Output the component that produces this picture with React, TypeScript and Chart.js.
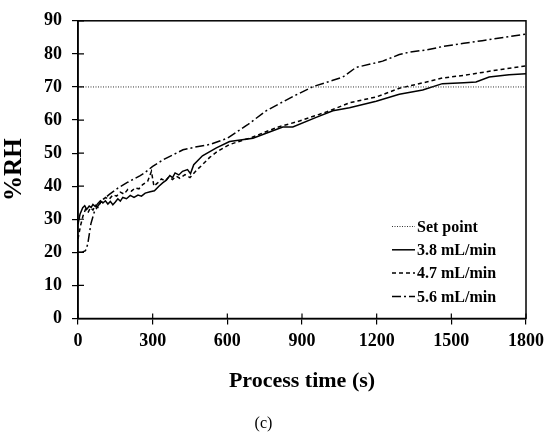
import { useEffect, useRef } from "react"
import { Chart, type ChartConfiguration, registerables } from "chart.js"

Chart.register(...registerables)

const setPointTime = [0, 1800]
const setPointRH = [70, 70]

const time38 = [0, 8, 19, 27, 35, 45, 53, 60, 70, 80, 90, 100, 110, 120, 130, 140, 150, 160, 170, 180, 195, 210, 225, 241, 255, 270, 290, 307, 325, 340, 355, 369, 380, 390, 405, 420, 440, 452, 465, 500, 556, 609, 703, 756, 823, 863, 957, 1024, 1091, 1198, 1291, 1385, 1464, 1550, 1599, 1652, 1732, 1800]
const rh38 = [28.5, 31.5, 33.5, 34.1, 33, 34, 33.6, 34.5, 33.8, 34.8, 35.6, 34.9, 35.6, 34.6, 35.4, 34.4, 35.2, 36.2, 35.5, 36.6, 36.2, 37.2, 36.6, 37.3, 37, 37.9, 38.3, 38.6, 40, 41, 41.8, 43.2, 42.6, 44, 43.4, 44.5, 45, 43.8, 46.5, 49.2, 51.6, 53.5, 54.5, 56, 57.9, 57.9, 60.8, 62.8, 63.7, 65.7, 67.8, 69.1, 71, 71.3, 71.5, 73, 73.7, 74]

const time47 = [0, 10, 20, 30, 40, 50, 60, 70, 80, 90, 100, 110, 125, 140, 155, 170, 185, 200, 215, 230, 245, 260, 280, 295, 305, 320, 335, 350, 365, 380, 395, 409, 430, 450, 476, 500, 529, 560, 609, 700, 800, 890, 1000, 1091, 1200, 1291, 1400, 1464, 1550, 1624, 1700, 1800]
const rh47 = [24, 28, 31, 33, 32, 33.5, 32.8, 34.2, 33.6, 35, 35.5, 36.6, 36, 37.4, 37, 38.2, 37.6, 39, 38.5, 39.5, 39.2, 40.5, 41.5, 44.5, 40, 41, 42.2, 41.6, 42.8, 42, 43, 42.4, 43.5, 42.6, 44.8, 46.5, 48.7, 50.5, 52.6, 54.8, 57.8, 59.7, 62.5, 65.2, 67, 69.6, 71.5, 72.7, 73.5, 74.4, 75.3, 76.4]

const time56 = [0, 15, 30, 39, 52, 65, 80, 100, 126, 160, 200, 230, 250, 267, 300, 347, 422, 470, 529, 600, 680, 756, 863, 944, 1024, 1064, 1117, 1224, 1291, 1331, 1400, 1464, 1550, 1624, 1719, 1800]
const rh56 = [20, 20, 20.5, 22.4, 28.7, 32.1, 34, 36, 37.5, 39.4, 41.2, 42.4, 43.2, 44, 46, 48.2, 51, 51.8, 52.6, 54.5, 58.5, 62.8, 67.1, 70.1, 72, 73, 75.9, 77.8, 79.8, 80.5, 81.2, 82.2, 83.2, 84, 85.1, 86]

const seriesLabels = ["Set point", "3.8 mL/min", "4.7 mL/min", "5.6 mL/min"]

const toPoints = (xs: number[], ys: number[]) => xs.map((x, i) => ({ x, y: ys[i] }))

const serif = "'Liberation Serif', 'Times New Roman', serif"

// ticks that also poke into the plot, plus the box around it
const boxTicks = {
  id: "boxTicks",
  afterDatasetsDraw(chart: Chart) {
    const { ctx, chartArea: a, scales } = chart
    ctx.save()
    ctx.strokeStyle = "#000"
    ctx.lineWidth = 1.2
    ctx.beginPath()
    scales.x.ticks.forEach((t) => {
      const px = scales.x.getPixelForValue(t.value)
      ctx.moveTo(px, a.bottom)
      ctx.lineTo(px, a.bottom - 5)
    })
    scales.y.ticks.forEach((t) => {
      const py = scales.y.getPixelForValue(t.value)
      ctx.moveTo(a.left, py)
      ctx.lineTo(a.left + 6, py)
    })
    ctx.stroke()
    ctx.lineWidth = 1.5
    ctx.strokeRect(a.left, a.top, a.right - a.left, a.bottom - a.top)
    ctx.restore()
  },
}

// legend sits inside the plot, bottom right
const insideLegend = {
  id: "insideLegend",
  afterDraw(chart: Chart) {
    const { ctx, chartArea: a } = chart
    const x0 = a.right - 134
    const y0 = a.bottom - 92
    ctx.save()
    chart.data.datasets.forEach((ds: any, i: number) => {
      const y = y0 + i * 23.3
      ctx.strokeStyle = ds.borderColor
      ctx.lineWidth = ds.borderWidth
      ctx.setLineDash(ds.borderDash || [])
      ctx.beginPath()
      ctx.moveTo(x0, y)
      ctx.lineTo(x0 + 23, y)
      ctx.stroke()
      ctx.setLineDash([])
      ctx.fillStyle = "#000"
      ctx.font = `bold 16px ${serif}`
      ctx.textAlign = "left"
      ctx.textBaseline = "middle"
      ctx.fillText(ds.label, x0 + 25, y + 1)
    })
    ctx.restore()
  },
}

export default function App() {
  const chartRef = useRef<HTMLCanvasElement>(null)
  const chartInstance = useRef<Chart>()

  useEffect(() => {
    if (!chartRef.current) return
    document.body.style.margin = "0"

    if (chartInstance.current) {
      chartInstance.current.destroy()
    }

    const ctx = chartRef.current.getContext("2d")
    if (!ctx) return

    const line = { pointRadius: 0, fill: false, tension: 0, borderColor: "#000" }

    chartInstance.current = new Chart(ctx, {
      type: "line",
      data: {
        datasets: [
          { ...line, label: seriesLabels[0], data: toPoints(setPointTime, setPointRH), borderWidth: 1, borderDash: [1, 1.5], borderColor: "#333" },
          { ...line, label: seriesLabels[1], data: toPoints(time38, rh38), borderWidth: 1.5 },
          { ...line, label: seriesLabels[2], data: toPoints(time47, rh47), borderWidth: 1.5, borderDash: [4, 3] },
          { ...line, label: seriesLabels[3], data: toPoints(time56, rh56), borderWidth: 1.5, borderDash: [9, 3, 2, 3] },
        ],
      },
      options: {
        responsive: true,
        maintainAspectRatio: false,
        animation: false,
        layout: { padding: { left: 0, right: 23, top: 10, bottom: 0 } },
        scales: {
          x: {
            type: "linear",
            min: 0,
            max: 1800,
            afterFit: (scale: any) => {
              scale.height = 95.3
            },
            border: { display: true, color: "#000", width: 1.5 },
            grid: { drawOnChartArea: false, drawTicks: true, tickLength: 6, color: "#000", lineWidth: 1.2 },
            ticks: {
              stepSize: 300,
              padding: 6,
              color: "#000",
              font: { family: serif, size: 18, weight: "bold" },
              maxRotation: 0,
              callback: (v: any) => String(v),
            },
            title: {
              display: true,
              text: "Process time (s)",
              color: "#000",
              font: { family: serif, size: 22, weight: "bold" },
              padding: { top: 0, bottom: 19 },
            },
          },
          y: {
            type: "linear",
            min: 0,
            max: 90,
            afterFit: (scale: any) => {
              scale.width = 78
            },
            border: { display: true, color: "#000", width: 1.5 },
            grid: { drawOnChartArea: false, drawTicks: true, tickLength: 6, color: "#000", lineWidth: 1.2 },
            ticks: {
              stepSize: 10,
              padding: 10,
              color: "#000",
              font: { family: serif, size: 18, weight: "bold" },
              callback: (v: any) => String(v),
            },
            title: {
              display: true,
              text: "%RH",
              color: "#000",
              font: { family: serif, size: 25, weight: "bold" },
              padding: { top: 0, bottom: 0 },
            },
          },
        },
        plugins: {
          legend: { display: false },
          tooltip: { enabled: false },
          title: {
            display: true,
            position: "bottom",
            text: "(c)",
            color: "#000",
            font: { family: serif, size: 16, weight: "normal" },
            padding: { top: 0, bottom: 6 },
          },
        },
      },
      plugins: [boxTicks, insideLegend],
    } as ChartConfiguration)

    return () => {
      if (chartInstance.current) {
        chartInstance.current.destroy()
      }
    }
  }, [])

  return (
    <div style={{ position: "relative", width: 550, height: 439, background: "#fff" }}>
      <canvas ref={chartRef} />
    </div>
  )
}
